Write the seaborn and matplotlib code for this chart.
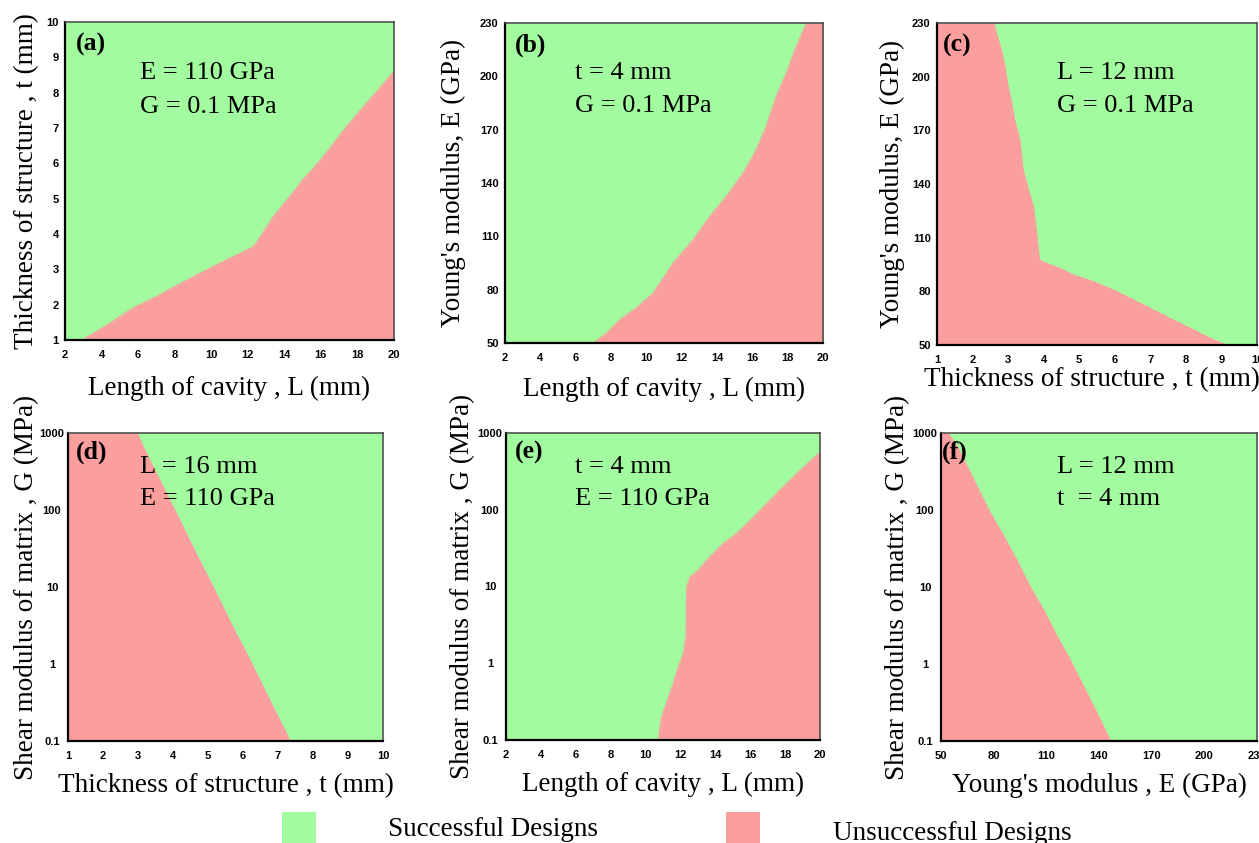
import numpy as np
import matplotlib
matplotlib.use("Agg")
import matplotlib.pyplot as plt
from matplotlib.patches import Rectangle
import seaborn as sns

# ---------------- data (boundary between successful / unsuccessful designs) ----------------
# (a) t boundary vs L  (E = 110 GPa, G = 0.1 MPa); red below
a_L = [3.1, 4.3, 5.7, 7.0, 8.5, 10.1, 11.2, 12.3, 12.6, 13.4, 14.3, 15.0, 16.0, 16.7, 17.4, 18.5, 20.0]
a_t = [1.05, 1.42, 1.90, 2.23, 2.65, 3.08, 3.36, 3.64, 3.85, 4.49, 5.06, 5.53, 6.10, 6.57, 7.04, 7.70, 8.60]

# (b) E boundary vs L  (t = 4 mm, G = 0.1 MPa); red below
b_L = [7.0, 7.75, 8.5, 9.44, 10.39, 11.52, 12.65, 13.6, 14.53, 15.48, 16.23, 16.79, 17.36, 17.93, 18.49, 19.06]
b_E = [50, 55.6, 63.1, 69.7, 78.1, 95.0, 108.1, 121.3, 132.5, 145.6, 158.8, 171.9, 188.8, 201.9, 216.9, 230]

# (c) t boundary vs E  (L = 12 mm, G = 0.1 MPa); red to the left
c_E = [230, 224.4, 215, 205.8, 194.6, 185.3, 175, 164.8, 148, 136.8, 127.4, 112.5, 97.6,
       95.7, 92.9, 89.2, 85.5, 80.8, 75.2, 69.6, 64.0, 58.4, 53.7, 50.0]
c_t = [2.6, 2.67, 2.81, 2.91, 3.0, 3.1, 3.19, 3.33, 3.42, 3.57, 3.71, 3.8, 3.88,
       4.08, 4.46, 4.83, 5.4, 5.96, 6.53, 7.09, 7.65, 8.22, 8.69, 9.15]

# (d) t boundary vs G  (L = 16 mm, E = 110 GPa); red to the left
d_G = [1000, 676, 302, 135, 74, 33, 15, 6.8, 3.0, 1.38, 0.62, 0.275, 0.126, 0.1]
d_t = [2.97, 3.14, 3.52, 3.90, 4.19, 4.57, 4.95, 5.33, 5.71, 6.10, 6.48, 6.86, 7.24, 7.33]

# (e) L boundary vs G  (t = 4 mm, E = 110 GPa); red to the right
e_G = [0.1, 0.2, 0.36, 0.55, 0.9, 1.35, 2.2, 9.9, 13.4, 15.5, 24.5, 36.3, 49.0, 72.4, 120, 200, 324, 562]
e_L = [10.73, 10.92, 11.31, 11.59, 11.88, 12.17, 12.32, 12.36, 12.55, 12.93, 13.7, 14.46, 15.22, 15.99, 16.94, 17.9, 18.85, 20.0]

# (f) E boundary vs G  (L = 12 mm, t = 4 mm); red to the left
f_G = [1000, 676, 372, 204, 91, 46, 22, 10, 5.0, 2.3, 1.12, 0.51, 0.23, 0.1]
f_E = [54.0, 59.1, 64.8, 70.5, 78.1, 85.7, 93.3, 100.9, 108.5, 116.1, 123.7, 131.3, 138.9, 146.5]

GREEN = "#a2fb9e"
RED = "#fb9e9e"

sns.set_style("white")
plt.rcParams["font.family"] = ["Liberation Serif", "DejaVu Serif"]
plt.rcParams["text.color"] = "black"
plt.rcParams["axes.labelcolor"] = "black"
plt.rcParams["xtick.color"] = "black"
plt.rcParams["ytick.color"] = "black"

fig = plt.figure(figsize=(12.59, 8.43), dpi=100)

LAB = 19.5
ANN = 19
TAG = 18.5
TICK = 8


def make_ax(rect, centered_y=False):
    ax = fig.add_axes(rect)
    ax.set_facecolor(GREEN)
    for s in ["left", "bottom"]:
        ax.spines[s].set_color("black")
        ax.spines[s].set_linewidth(1.6)
    for s in ["top", "right"]:
        ax.spines[s].set_color("#444444")
        ax.spines[s].set_linewidth(1.1)
    ax.tick_params(axis="x", which="both", length=0, pad=7)
    ax.tick_params(axis="y", which="both", length=0, pad=11.5 if centered_y else 4.5)
    return ax


def style_ticks(ax, xt, yt, xtl=None, ytl=None, centered_y=False):
    ax.set_xticks(xt)
    ax.set_yticks(yt)
    fd = dict(family="Liberation Sans", weight="bold", size=TICK)
    ax.set_xticklabels(xtl if xtl else [str(v) for v in xt], fontdict=fd)
    ax.set_yticklabels(ytl if ytl else [str(v) for v in yt], fontdict=fd)
    if centered_y:
        for t in ax.get_yticklabels():
            t.set_horizontalalignment("center")
    ax.minorticks_off()


def annotate(ax, tag, l1, l2, x1, y1, y2, tx, ty):
    ax.text(tx, ty, tag, transform=ax.transAxes, fontsize=TAG, fontweight="bold",
            va="center", ha="left")
    ax.text(x1, y1, l1, transform=ax.transAxes, fontsize=ANN, va="center", ha="left")
    ax.text(x1, y2, l2, transform=ax.transAxes, fontsize=ANN, va="center", ha="left")


def labels(ax, xl, yl, xpad, ypad):
    ax.set_xlabel(xl, fontsize=LAB, labelpad=xpad)
    ax.set_ylabel(yl, fontsize=LAB, labelpad=ypad)


# (a)
ax = make_ax([0.0516, 0.5967, 0.2613, 0.3772])
ax.fill_between(a_L, 1, a_t, color=RED, lw=0)
sns.lineplot(x=a_L, y=a_t, ax=ax, color=RED, lw=0.8, sort=False)
ax.set_xlim(2, 20); ax.set_ylim(1, 10)
style_ticks(ax, list(range(2, 21, 2)), list(range(1, 11)))
labels(ax, "Length of cavity , L (mm)", "Thickness of structure , t (mm)", 11.5, 5)
annotate(ax, "(a)", "E = 110 GPa", "G = 0.1 MPa", 0.228, 0.84, 0.733, 0.033, 0.928)

# (b)
ax = make_ax([0.4011, 0.5931, 0.2526, 0.3796])
ax.fill_between(b_L + [20], 50, b_E + [230], color=RED, lw=0)
sns.lineplot(x=b_L, y=b_E, ax=ax, color=RED, lw=0.8, sort=False)
ax.set_xlim(2, 20); ax.set_ylim(50, 230)
style_ticks(ax, list(range(2, 21, 2)), [50, 80, 110, 140, 170, 200, 230])
labels(ax, "Length of cavity , L (mm)", "Young's modulus, E (GPa)", 10.5, 10.4)
annotate(ax, "(b)", "t = 4 mm", "G = 0.1 MPa", 0.22, 0.844, 0.74, 0.031, 0.93)

# (c)
ax = make_ax([0.7442, 0.5907, 0.2542, 0.382])
ax.fill_betweenx(c_E, 1, c_t, color=RED, lw=0)
sns.lineplot(x=c_t, y=c_E, ax=ax, color=RED, lw=0.8, sort=False)
ax.set_xlim(1, 10); ax.set_ylim(50, 230)
style_ticks(ax, list(range(1, 11)), [50, 80, 110, 140, 170, 200, 230])
labels(ax, "Thickness of structure , t (mm)", "Young's modulus, E (GPa)", 2, 5)
ax.xaxis.label.set_x(0.485)
annotate(ax, "(c)", "L = 12 mm", "G = 0.1 MPa", 0.375, 0.845, 0.742, 0.019, 0.93)

Gt = [0.1, 1, 10, 100, 1000]
Gl = ["0.1", "1", "10", "100", "1000"]

# (d)
ax = make_ax([0.054, 0.121, 0.2502, 0.3654], centered_y=True)
ax.set_yscale("log")
ax.fill_betweenx(d_G, 1, d_t, color=RED, lw=0)
sns.lineplot(x=d_t, y=d_G, ax=ax, color=RED, lw=0.8, sort=False)
ax.set_xlim(1, 10); ax.set_ylim(0.1, 1000)
style_ticks(ax, list(range(1, 11)), Gt, None, Gl, centered_y=True)
labels(ax, "Thickness of structure , t (mm)", "Shear modulus of matrix , G (MPa)", 9, 0)
annotate(ax, "(d)", "L = 16 mm", "E = 110 GPa", 0.229, 0.89, 0.786, 0.025, 0.938)

# (e)
ax = make_ax([0.4019, 0.1222, 0.2494, 0.3642], centered_y=True)
ax.set_yscale("log")
ax.fill_betweenx(e_G, e_L, 20, color=RED, lw=0)
sns.lineplot(x=e_L, y=e_G, ax=ax, color=RED, lw=0.8, sort=False)
ax.set_xlim(2, 20); ax.set_ylim(0.1, 1000)
style_ticks(ax, list(range(2, 21, 2)), Gt, None, Gl, centered_y=True)
labels(ax, "Length of cavity , L (mm)", "Shear modulus of matrix , G (MPa)", 9, 2)
annotate(ax, "(e)", "t = 4 mm", "E = 110 GPa", 0.22, 0.89, 0.786, 0.029, 0.938)

# (f)
ax = make_ax([0.7474, 0.121, 0.251, 0.3654], centered_y=True)
ax.set_yscale("log")
ax.fill_betweenx(f_G, 50, f_E, color=RED, lw=0)
sns.lineplot(x=f_E, y=f_G, ax=ax, color=RED, lw=0.8, sort=False)
ax.set_xlim(50, 230); ax.set_ylim(0.1, 1000)
style_ticks(ax, [50, 80, 110, 140, 170, 200, 230], Gt, None, Gl, centered_y=True)
labels(ax, "Young's modulus , E (GPa)", "Shear modulus of matrix , G (MPa)", 9, 2)
annotate(ax, "(f)", "L = 12 mm", "t  = 4 mm", 0.367, 0.89, 0.786, 0.003, 0.938)

# legend
W, H = 1259.0, 843.0
fig.patches.append(Rectangle((282 / W, 0), 34 / W, 31 / H, transform=fig.transFigure,
                             facecolor=GREEN, edgecolor="none"))
fig.patches.append(Rectangle((726 / W, 0), 34 / W, 31 / H, transform=fig.transFigure,
                             facecolor=RED, edgecolor="none"))
fig.text(388 / W, 1 - 830 / H, "Successful Designs", fontsize=LAB, va="center", ha="left")
fig.text(833 / W, 1 - 833 / H, "Unsuccessful Designs", fontsize=LAB, va="center", ha="left")

fig.savefig("out.png", dpi=100)
